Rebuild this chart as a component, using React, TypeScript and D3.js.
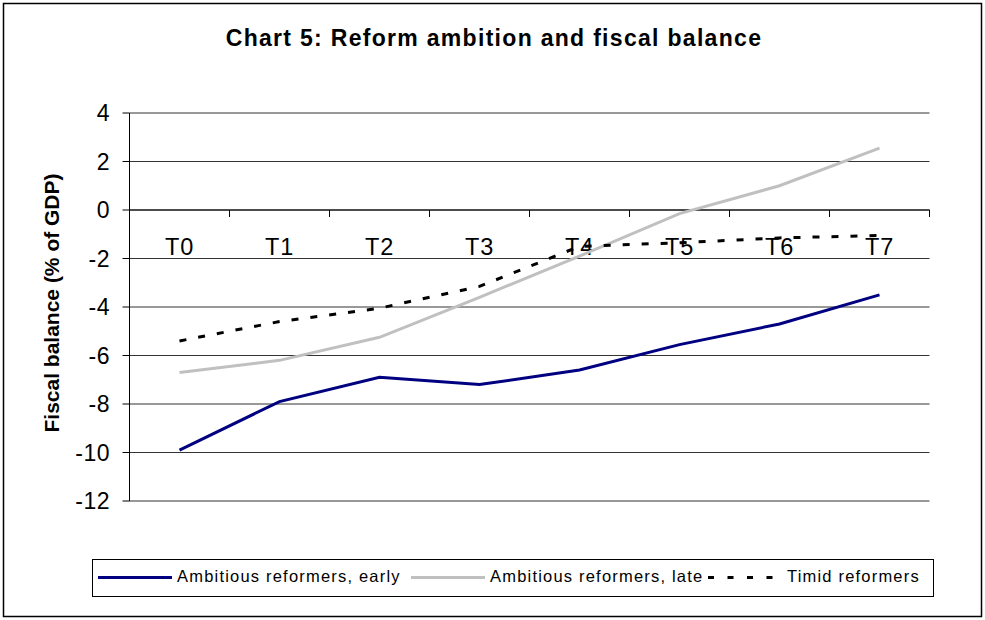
import React from 'react';
import * as d3 from 'd3';

const categories = ['T0', 'T1', 'T2', 'T3', 'T4', 'T5', 'T6', 'T7'];
const earlyValues = [-9.9, -7.9, -6.9, -7.2, -6.6, -5.55, -4.7, -3.5];
const lateValues = [-6.7, -6.2, -5.25, -3.6, -1.9, -0.15, 1.0, 2.55];
const timidValues = [-5.4, -4.6, -4.05, -3.15, -1.5, -1.35, -1.15, -1.05];
const yTicks = [4, 2, 0, -2, -4, -6, -8, -10, -12];

const seriesList = [
  { name: 'Ambitious reformers, early', values: earlyValues, color: '#000080', dash: null },
  { name: 'Ambitious reformers, late', values: lateValues, color: '#C0C0C0', dash: null },
  { name: 'Timid reformers', values: timidValues, color: '#000000', dash: '7,12' },
];
const legendX = [98, 411, 708];

const font = '"Liberation Sans", Arial, sans-serif';

export default function App() {
  const width = 985;
  const height = 620;
  const plot = { left: 129.5, right: 929.5, top: 113, bottom: 501 };

  const x = d3.scaleBand().domain(categories).range([plot.left, plot.right]).padding(0);
  const y = d3.scaleLinear().domain([-12, 4]).range([plot.bottom, plot.top]);
  const cx = (c: string) => (x(c) as number) + x.bandwidth() / 2;

  const line = d3.line<[string, number]>()
    .x(d => cx(d[0]))
    .y(d => y(d[1]));

  const zero = y(0);
  const bounds = categories.map(c => x(c) as number).concat([plot.right]);

  return (
    <svg width={width} height={height} style={{ position: 'absolute', left: 0, top: 0, background: '#fff' }}>
      <rect x={3.5} y={3.5} width={978} height={613} fill="#fff" stroke="#000" strokeWidth={1.5} />

      <text x={494} y={45.7} textAnchor="middle" fontFamily={font} fontWeight="bold" fontSize={23}
        letterSpacing={1.3}>Chart 5: Reform ambition and fiscal balance</text>

      {/* grid */}
      {yTicks.map(t => (
        <line key={'g' + t} x1={plot.left} x2={plot.right} y1={y(t)} y2={y(t)} stroke="#333" strokeWidth={1} />
      ))}

      {/* y axis */}
      <line x1={plot.left} x2={plot.left} y1={plot.top} y2={plot.bottom} stroke="#000" strokeWidth={1} />
      {yTicks.map(t => (
        <g key={'t' + t}>
          <line x1={plot.left - 7} x2={plot.left} y1={y(t)} y2={y(t)} stroke="#000" strokeWidth={1} />
          <text x={110} y={y(t)} dy="0.36em" textAnchor="end" fontFamily={font} fontSize={23}
            letterSpacing={0.5}>{t}</text>
        </g>
      ))}

      <text transform={`translate(59,303) rotate(-90)`} textAnchor="middle" fontFamily={font}
        fontWeight="bold" fontSize={21}>Fiscal balance (% of GDP)</text>

      {/* x axis at zero */}
      <line x1={plot.left} x2={plot.right} y1={zero} y2={zero} stroke="#000" strokeWidth={1} />
      {bounds.map((b, i) => (
        <line key={'xt' + i} x1={b} x2={b} y1={zero} y2={zero + 7} stroke="#000" strokeWidth={1} />
      ))}
      {categories.map(c => (
        <text key={c} x={cx(c)} y={zero + 45} textAnchor="middle" fontFamily={font} fontSize={23.5}
          letterSpacing={0.8}>{c}</text>
      ))}

      {/* series */}
      {seriesList.map(s => (
        <path key={s.name}
          d={line(categories.map((c, i) => [c, s.values[i]] as [string, number])) || ''}
          fill="none" stroke={s.color} strokeWidth={3}
          strokeDasharray={s.dash || undefined} />
      ))}

      {/* legend */}
      <rect x={92.5} y={559.5} width={841} height={37} fill="#fff" stroke="#000" strokeWidth={1} />
      {seriesList.map((s, i) => (
        <g key={'l' + i}>
          <line x1={legendX[i]} x2={legendX[i] + 74} y1={577.5} y2={577.5} stroke={s.color} strokeWidth={3}
            strokeDasharray={s.dash ? '6,13.5' : undefined} />
          <text x={legendX[i] + 79} y={582} fontFamily={font} fontSize={16.5} letterSpacing={1.2}>{s.name}</text>
        </g>
      ))}
    </svg>
  );
}
